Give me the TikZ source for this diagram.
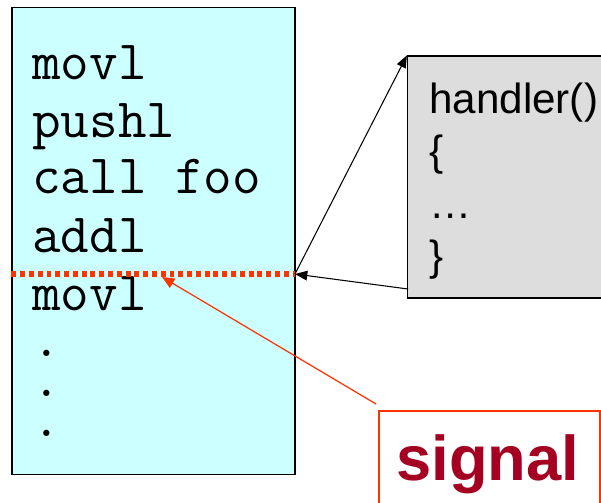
\documentclass[tikz,border=0pt]{standalone}
\usepackage{fontspec}
\setmainfont{Liberation Sans}
\usetikzlibrary{arrows.meta}

\definecolor{codecyan}{HTML}{CCFFFF}
\definecolor{handlergray}{HTML}{DDDDDD}
\definecolor{signalred}{HTML}{FF3300}
\definecolor{signaltext}{HTML}{A50021}

\begin{document}
\begin{tikzpicture}[x=0.02cm, y=-0.02cm]
        \tikzstyle{codebox} = [draw, fill=codecyan, line width=0.7pt, rectangle, inner sep=0pt, minimum width=5.66cm, minimum height=9.34cm];
        \tikzstyle{handlerbox} = [draw, fill=handlergray, line width=0.7pt, rectangle, inner sep=0pt, minimum width=4.1cm, minimum height=4.84cm];
        \tikzstyle{signalbox} = [draw=signalred, line width=1.1pt, rectangle, inner sep=0pt, minimum width=4.42cm, minimum height=2.2cm];
        \tikzstyle{codeline} = [anchor=base west, inner sep=0pt, font=\ttfamily\fontsize{31.6}{34}\selectfont];
        \tikzstyle{handlerline} = [anchor=base west, inner sep=0pt, font=\fontsize{24}{28}\selectfont];

        \clip (0,0) rectangle (601,503);

        \node(code)[codebox] at (153.5,241) {};
        \node(handler)[handlerbox] at (510,177) {};
        \node(signal)[signalbox] at (489.5,466) {};

        \foreach \y/\txt [count=\i] in {80/movl, 138/pushl, 194/call foo, 252/addl, 310/movl, 356/., 396/., 436/.}
            \node(line\i)[codeline] at (32,\y) {\txt};

        \foreach \y/\txt [count=\i] in {114/handler(), 166/\{, 218/\dots, 270/\}}
            \node(hline\i)[handlerline] at (429,\y) {\txt};

        \node(signaltxt)[anchor=base west, inner sep=0pt, text=signaltext, font=\bfseries\fontsize{36}{40}\selectfont] at (396,480) {signal};

        \coordinate (irq) at (295,274);
        \coordinate (hout) at (408,289);
        \coordinate (sigtail) at (376,404);
        \coordinate (sighit) at (162,277);

        \draw [signalred, line width=3pt, dash pattern=on 2.8pt off 2.2pt] (code.west |- irq) -- (irq);
        \draw [-{Triangle[length=7pt, width=5.5pt]}, line width=0.6pt] (hout) -- (irq);
        \draw [-{Triangle[length=7pt, width=5.5pt]}, line width=0.6pt] (irq) -- (handler.north west);
        \draw [-{Triangle[length=7pt, width=6pt]}, signalred, line width=0.7pt] (sigtail) -- (sighit);
    \end{tikzpicture}
\end{document}
